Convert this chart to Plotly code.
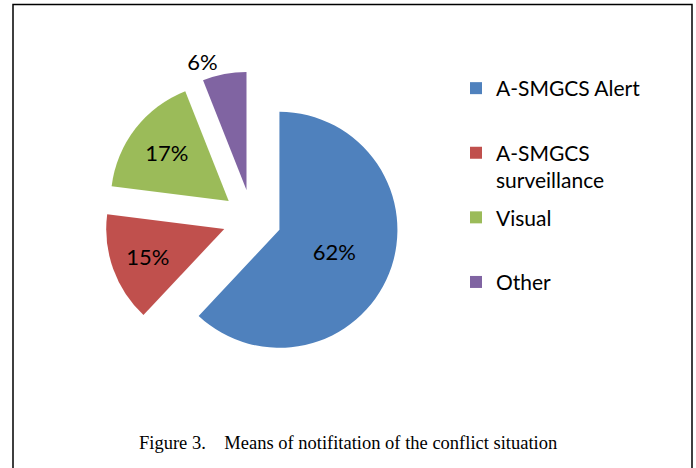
import plotly.graph_objects as go

labels = ["A-SMGCS Alert", "A-SMGCS surveillance", "Visual", "Other"]
values = [62, 15, 17, 6]
colors = ["#4F81BD", "#C0504D", "#9BBB59", "#8064A2"]
caption = "Figure 3.\u00a0\u00a0\u00a0 Means of notifitation of the conflict situation"

W, H = 696, 468
FONT = "Lato, Open Sans, sans-serif"

# legend names: wrap the long label, pad the short ones so slots are even
legend_names = []
for lab in labels:
    if lab == "A-SMGCS surveillance":
        legend_names.append("A-SMGCS<br>surveillance")
    else:
        legend_names.append(lab + "<br> ")

cx, cy, r, pull = 252, 219, 118, 0.25
half = r * (1 + pull)
fig = go.Figure()
fig.add_trace(go.Pie(
    labels=labels,
    values=values,
    marker=dict(colors=colors),
    sort=False,
    direction="clockwise",
    rotation=0,
    pull=[pull] * 4,
    texttemplate="%{percent:.0%}",
    textposition=["inside", "inside", "inside", "outside"],
    insidetextorientation="horizontal",
    textfont=dict(family=FONT, size=22, color="black"),
    hoverinfo="label+percent",
    showlegend=False,
    automargin=False,
    domain=dict(x=[(cx - half) / W, (cx + half) / W],
                y=[(H - cy - half) / H, (H - cy + half) / H]),
))

# legend entries (one group per category for even spacing)
for name, col in zip(legend_names, colors):
    fig.add_trace(go.Scatter(
        x=[None], y=[None], mode="markers", name=name, legendgroup=name,
        marker=dict(symbol="square", size=12, color=col),
        hoverinfo="skip",
    ))

fig.update_layout(
    width=W, height=H,
    margin=dict(l=0, r=0, t=0, b=0, autoexpand=False),
    paper_bgcolor="white",
    plot_bgcolor="white",
    xaxis=dict(visible=False),
    yaxis=dict(visible=False),
    showlegend=True,
    legend=dict(
        x=456 / W, xanchor="left",
        y=1 - 68 / H, yanchor="top",
        valign="top",
        traceorder="grouped",
        tracegroupgap=7,
        font=dict(family=FONT, size=21, color="black"),
    ),
    shapes=[dict(type="rect", xref="paper", yref="paper",
                 x0=13 / W, x1=692 / W, y0=-0.05, y1=1 - 4.5 / H,
                 line=dict(color="black", width=1.5))],
    annotations=[dict(text=caption, xref="paper", yref="paper",
                      x=348 / W, y=1 - 443 / H, xanchor="center", yanchor="middle",
                      showarrow=False,
                      font=dict(family="Liberation Serif, Times New Roman, serif",
                                size=18.5, color="black"))],
)

fig.write_html("out.html", config={"displayModeBar": False},
               post_script="document.body.style.margin='0';")
